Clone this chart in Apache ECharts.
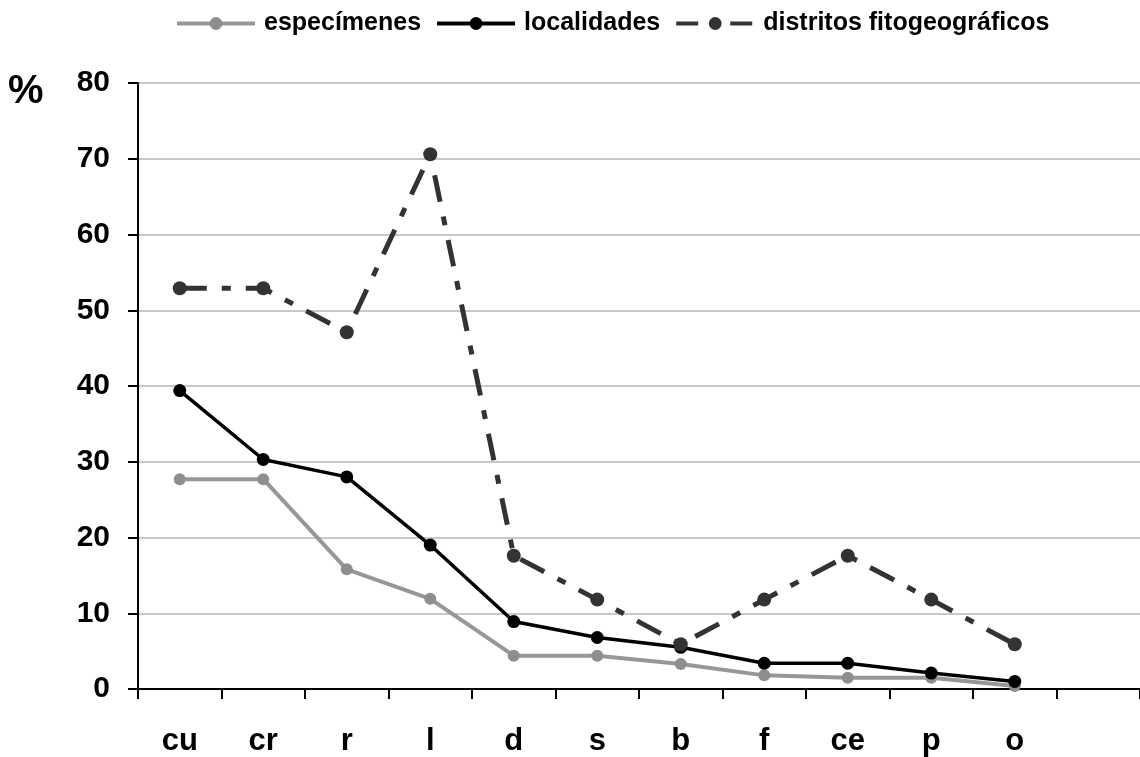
<html>
<head>
<meta charset="utf-8">
<script src="https://cdn.jsdelivr.net/npm/echarts@6/dist/echarts.min.js"></script>
</head>
<body>
<style>
    html, body, #main {
        width: 100%;
        height: 100%;
        margin: 0;
        background: #fff;
    }
</style>
<div id='main'></div>
<script>
    // categorias (la ultima vacia deja el hueco a la derecha)
    var categorias = ['cu', 'cr', 'r', 'l', 'd', 's', 'b', 'f', 'ce', 'p', 'o', ''];
    var especimenes = [27.7, 27.7, 15.8, 11.9, 4.4, 4.4, 3.3, 1.8, 1.5, 1.5, 0.4];
    var localidades = [39.4, 30.3, 28.0, 19.0, 8.9, 6.8, 5.5, 3.4, 3.4, 2.1, 1.0];
    var distritos = [52.9, 52.9, 47.1, 70.6, 17.6, 11.8, 5.9, 11.8, 17.6, 11.8, 5.9];
    var nombres = ['especímenes', 'localidades', 'distritos fitogeográficos'];

    var fuente = 'Arial, "Liberation Sans", sans-serif';
    var colores = ['#979797', '#000000', '#333333'];
    var grosor = [4, 3.5, 5];
    var guiones = [[27, 15, 9, 15]];

    var chart = echarts.init(document.getElementById('main'), null, {renderer: 'canvas'});
    var option = {
        animation: false,
        backgroundColor: '#fff',
        title: {
            text: '%',
            left: 8,
            top: 72,
            padding: 0,
            textStyle: {fontFamily: fuente, fontWeight: 'bold', fontSize: 40, color: '#000'}
        },
        legend: {
            left: 170,
            top: 6,
            itemWidth: 78,
            itemHeight: 16,
            itemGap: 14,
            textStyle: {
                fontFamily: fuente, fontWeight: 'bold', fontSize: 25, color: '#000',
                padding: [0, 0, 0, 4]
            },
            data: [
                {name: nombres[0], lineStyle: {width: 4, color: colores[0]}},
                {name: nombres[1], lineStyle: {width: 4, color: colores[1]}},
                {name: nombres[2], lineStyle: {width: 4, color: colores[2], type: [22, 12, 8, 12]}}
            ]
        },
        grid: {left: 138, right: 0, top: 83, bottom: 68},
        xAxis: {
            type: 'category',
            data: categorias,
            boundaryGap: true,
            axisLine: {lineStyle: {color: '#000', width: 2}},
            axisTick: {show: true, length: 10, interval: 0, lineStyle: {color: '#000', width: 2}},
            axisLabel: {
                interval: 0, margin: 37,
                fontFamily: fuente, fontWeight: 'bold', fontSize: 31, color: '#000'
            },
            splitLine: {show: false}
        },
        yAxis: {
            type: 'value',
            min: 0,
            max: 80,
            interval: 10,
            axisLine: {show: true, lineStyle: {color: '#000', width: 2}},
            axisTick: {show: true, length: 10, lineStyle: {color: '#000', width: 2}},
            axisLabel: {
                margin: 28,
                fontFamily: fuente, fontWeight: 'bold', fontSize: 30, color: '#000'
            },
            splitLine: {lineStyle: {color: '#c8c8c8', width: 2}}
        },
        series: [
            {
                name: nombres[0],
                type: 'line',
                data: especimenes,
                symbol: 'circle',
                symbolSize: 12,
                itemStyle: {color: '#8e8e8e'},
                lineStyle: {color: colores[0], width: grosor[0]}
            },
            {
                name: nombres[1],
                type: 'line',
                data: localidades,
                symbol: 'circle',
                symbolSize: 13,
                itemStyle: {color: colores[1]},
                lineStyle: {color: colores[1], width: grosor[1]}
            },
            {
                name: nombres[2],
                type: 'line',
                data: distritos,
                symbol: 'circle',
                symbolSize: 14,
                itemStyle: {color: colores[2]},
                lineStyle: {color: colores[2], width: grosor[2], type: guiones[0]}
            }
        ]
    };

    chart.setOption(option);
    window.onresize = chart.resize;
</script>
</body>
</html>
